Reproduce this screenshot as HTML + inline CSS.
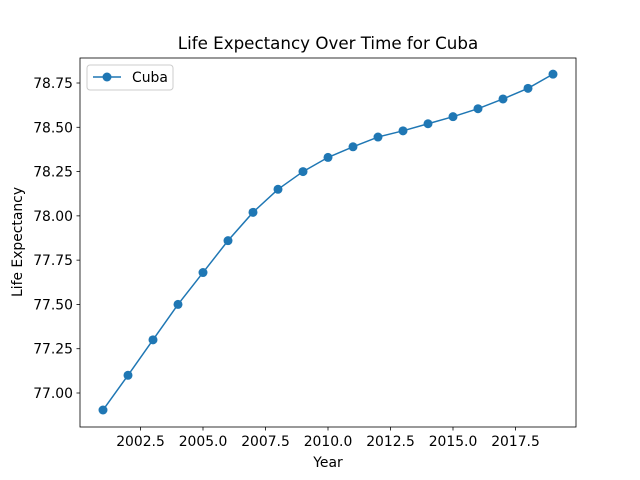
<!DOCTYPE html>
<html><head><meta charset="utf-8"><style>body{margin:0;background:#fff}svg{display:block;font-family:"DejaVu Sans","Liberation Sans",sans-serif}</style></head>
<body>
<svg id="chart" width="640" height="480">
<rect width="640" height="480" fill="#fff"/>
<text x="328" y="49" font-size="16.7" text-anchor="middle">Life Expectancy Over Time for Cuba</text>
<g id="ticks"></g>
<g id="series"></g>
<rect x="80" y="58" width="496" height="369" fill="none" stroke="#000" stroke-width="0.8"/>
<text x="328" y="467" font-size="13.9" text-anchor="middle">Year</text>
<text transform="translate(22,242) rotate(-90)" font-size="13.9" text-anchor="middle">Life Expectancy</text>
<g>
<rect x="87" y="65" width="86" height="25" rx="3" fill="#fff" stroke="#ccc"/>
<line x1="93" y1="77" x2="121" y2="77" stroke="#1f77b4" stroke-width="1.5"/>
<circle cx="107" cy="77" r="4.5" fill="#1f77b4"/>
<text x="132" y="82" font-size="13.9">Cuba</text>
</g>
</svg>
<script>
const years=[2001,2002,2003,2004,2005,2006,2007,2008,2009,2010,2011,2012,2013,2014,2015,2016,2017,2018,2019];
const lifeExp=[76.904,77.10,77.30,77.50,77.68,77.86,78.02,78.15,78.25,78.33,78.39,78.445,78.48,78.52,78.56,78.605,78.66,78.72,78.80];
const xTicks=[2002.5,2005.0,2007.5,2010.0,2012.5,2015.0,2017.5];
const yTicks=[77.00,77.25,77.50,77.75,78.00,78.25,78.50,78.75];
const NS="http://www.w3.org/2000/svg";
const xs=v=>203+(v-2005)*25;
const ys=v=>393-(v-77)*177.14;
function mk(t,a,p){const e=document.createElementNS(NS,t);for(const k in a)e.setAttribute(k,a[k]);p.appendChild(e);return e;}
const tg=document.getElementById('ticks');
xTicks.forEach(t=>{const x=xs(t);
mk('line',{x1:x,x2:x,y1:427,y2:430.5,stroke:'#000','stroke-width':0.8},tg);
const tx=mk('text',{x:x,y:446,'font-size':13.9,'text-anchor':'middle'},tg);tx.textContent=t.toFixed(1);

});
yTicks.forEach(t=>{const y=ys(t);
mk('line',{x1:76.5,x2:80,y1:y,y2:y,stroke:'#000','stroke-width':0.8},tg);
const tx=mk('text',{x:73,y:y+5,'font-size':13.9,'text-anchor':'end'},tg);tx.textContent=t.toFixed(2);

});
const sg=document.getElementById('series');
const pl=mk('polyline',{points:years.map((y,i)=>xs(y)+','+ys(lifeExp[i])).join(' '),fill:'none',stroke:'#1f77b4','stroke-width':1.5},sg);


years.forEach((y,i)=>{const c=mk('circle',{cx:xs(y),cy:ys(lifeExp[i]),r:4.5,fill:'#1f77b4'},sg);

});
</script>
</body></html>
